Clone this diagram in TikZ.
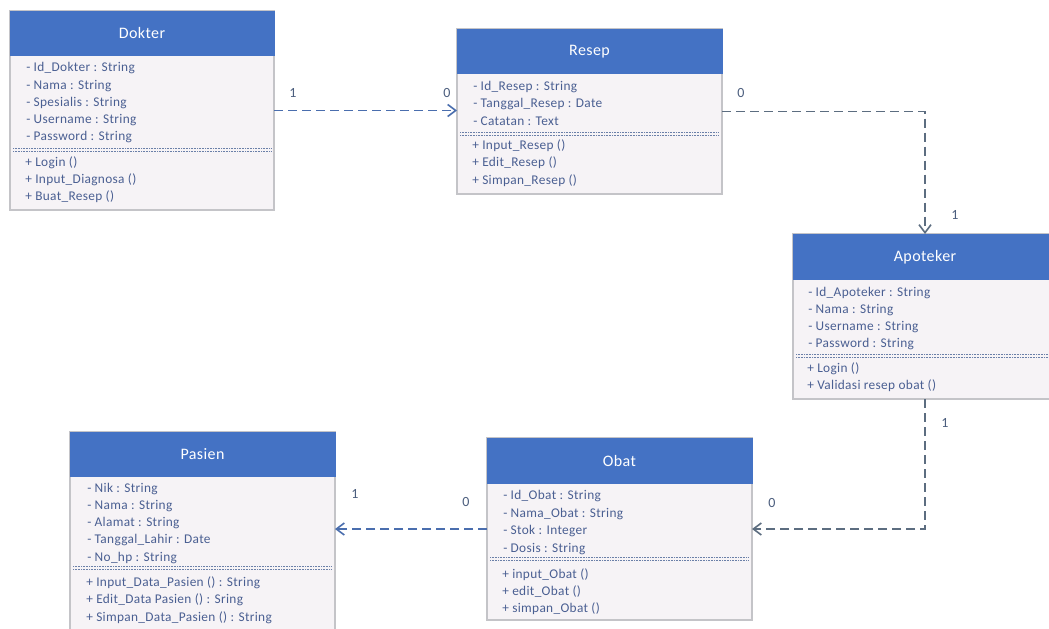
\documentclass[tikz,border=0pt]{standalone}
\usepackage{fontspec}
\setmainfont{Carlito}
\newfontfamily\umlfont[LetterSpace=2.5]{Carlito}
\usetikzlibrary{arrows.meta}
\definecolor{hdr}{HTML}{4472C4}
\definecolor{bodyfill}{HTML}{F6F3F6}
\definecolor{bordc}{HTML}{C4C4C8}
\definecolor{txt}{HTML}{4A5F92}
\definecolor{lbl}{HTML}{4C5E7E}
\definecolor{lnblue}{HTML}{4A6EAE}
\definecolor{lngray}{HTML}{5C6D80}
\definecolor{sepc}{HTML}{6A7FA8}
\begin{document}
\begin{tikzpicture}[x=0.75pt,y=-0.75pt,
  classbox/.style={draw=bordc, line width=0.8pt, fill=bodyfill, anchor=north west, inner sep=0pt, outer sep=0pt},
  hdrbox/.style={fill=hdr, draw=hdr},
  classtitle/.style={text=white, inner sep=0pt, font=\umlfont\fontsize{12}{14}\selectfont},
  member/.style={text=txt, anchor=west, inner sep=0pt, font=\umlfont\fontsize{10}{12}\selectfont},
  sepline/.style={draw=sepc, line width=0.5pt, dash pattern=on 0.6pt off 0.6pt},
  conn/.style={line width=1.2pt, dash pattern=on 7pt off 3.5pt, -{Straight Barb[length=6pt,width=9pt,line width=1.2pt]}},
  mult/.style={text=lbl, inner sep=0pt, font=\umlfont\fontsize{10.5}{12}\selectfont}
]
\useasboundingbox (0,0) rectangle (1049,628);
\fill[white] (0,0) rectangle (1049,628);

% ---------- Dokter ----------
\node[classbox, minimum width=198pt, minimum height=149.25pt] (dokter) at (10,11) {};
\fill[hdrbox] (10,11) rectangle (274,55);
\node[classtitle] (dk-t) at (142,33) {Dokter};
\foreach \y/\t [count=\i] in {68/{- Id\_Dokter : String}, 86/{- Nama : String}, 103/{- Spesialis : String}, 120/{- Username : String}, 137/{- Password : String}}
  \node[member] (dk-a\i) at (26,\y) {\t};
\draw[sepline] (13,148.5) -- (271,148.5);
\draw[sepline] (13,151.5) -- (271,151.5);
\foreach \y/\t [count=\i] in {163/{+ Login ()}, 180/{+ Input\_Diagnosa ()}, 197/{+ Buat\_Resep ()}}
  \node[member] (dk-m\i) at (25,\y) {\t};

% ---------- Resep ----------
\node[classbox, minimum width=198.75pt, minimum height=123.75pt] (resep) at (457,29) {};
\fill[hdrbox] (457,29) rectangle (722,73);
\node[classtitle] (rs-t) at (589.5,52) {Resep};
\foreach \y/\t [count=\i] in {87/{- Id\_Resep : String}, 104/{- Tanggal\_Resep : Date}, 121/{- Catatan : Text}}
  \node[member] (rs-a\i) at (473,\y) {\t};
\draw[sepline] (460,132.5) -- (719,132.5);
\draw[sepline] (460,135.5) -- (719,135.5);
\foreach \y/\t [count=\i] in {146/{+ Input\_Resep ()}, 163/{+ Edit\_Resep ()}, 181/{+ Simpan\_Resep ()}}
  \node[member] (rs-m\i) at (472,\y) {\t};

% ---------- Apoteker ----------
\node[classbox, minimum width=198pt, minimum height=123.75pt] (apoteker) at (793,234) {};
\fill[hdrbox] (793,234) rectangle (1057,279);
\node[classtitle] (ap-t) at (925,257) {Apoteker};
\foreach \y/\t [count=\i] in {293/{- Id\_Apoteker : String}, 310/{- Nama : String}, 327/{- Username : String}, 344/{- Password : String}}
  \node[member] (ap-a\i) at (808,\y) {\t};
\draw[sepline] (796,354.5) -- (1054,354.5);
\draw[sepline] (796,357.5) -- (1054,357.5);
\foreach \y/\t [count=\i] in {369/{+ Login ()}, 386/{+ Validasi resep obat ()}}
  \node[member] (ap-m\i) at (807,\y) {\t};

% ---------- Pasien ----------
\node[classbox, minimum width=198.75pt, minimum height=150pt] (pasien) at (70,432) {};
\fill[hdrbox] (70,432) rectangle (335,476);
\node[classtitle] (ps-t) at (202.5,454) {Pasien};
\foreach \y/\t [count=\i] in {489/{- Nik : String}, 506/{- Nama : String}, 523/{- Alamat : String}, 540/{- Tanggal\_Lahir : Date}, 558/{- No\_hp : String}}
  \node[member] (ps-a\i) at (87,\y) {\t};
\draw[sepline] (73,566.5) -- (332,566.5);
\draw[sepline] (73,569.5) -- (332,569.5);
\foreach \y/\t [count=\i] in {583/{+ Input\_Data\_Pasien () : String}, 600/{+ Edit\_Data Pasien () : Sring}, 618/{+ Simpan\_Data\_Pasien () : String}}
  \node[member] (ps-m\i) at (86,\y) {\t};

% ---------- Obat ----------
\node[classbox, minimum width=198.75pt, minimum height=136.5pt] (obat) at (487,438) {};
\fill[hdrbox] (487,438) rectangle (752,483);
\node[classtitle] (ob-t) at (619.5,461) {Obat};
\foreach \y/\t [count=\i] in {496/{- Id\_Obat : String}, 514/{- Nama\_Obat : String}, 531/{- Stok : Integer}, 549/{- Dosis : String}}
  \node[member] (ob-a\i) at (503,\y) {\t};
\draw[sepline] (490,557.5) -- (749,557.5);
\draw[sepline] (490,560.5) -- (749,560.5);
\foreach \y/\t [count=\i] in {575/{+ input\_Obat ()}, 592/{+ edit\_Obat ()}, 609/{+ simpan\_Obat ()}}
  \node[member] (ob-m\i) at (502,\y) {\t};

% ---------- Connectors ----------
\draw[conn, lnblue] (dokter.east) -- (dokter.east -| resep.west);
\draw[conn, lngray] (resep.east) -| (apoteker.north);
\draw[conn, lngray] (apoteker.south) |- (obat.east);
\draw[conn, lnblue] (obat.west) -- (obat.west -| pasien.east);

% ---------- Multiplicities ----------
\node[mult] (m1) at (293,93) {1};
\node[mult] (m2) at (447,93) {0};
\node[mult] (m3) at (741,93) {0};
\node[mult] (m4) at (955,215) {1};
\node[mult] (m5) at (945,423) {1};
\node[mult] (m6) at (772,503) {0};
\node[mult] (m7) at (355,494) {1};
\node[mult] (m8) at (466,502) {0};
\end{tikzpicture}
\end{document}
